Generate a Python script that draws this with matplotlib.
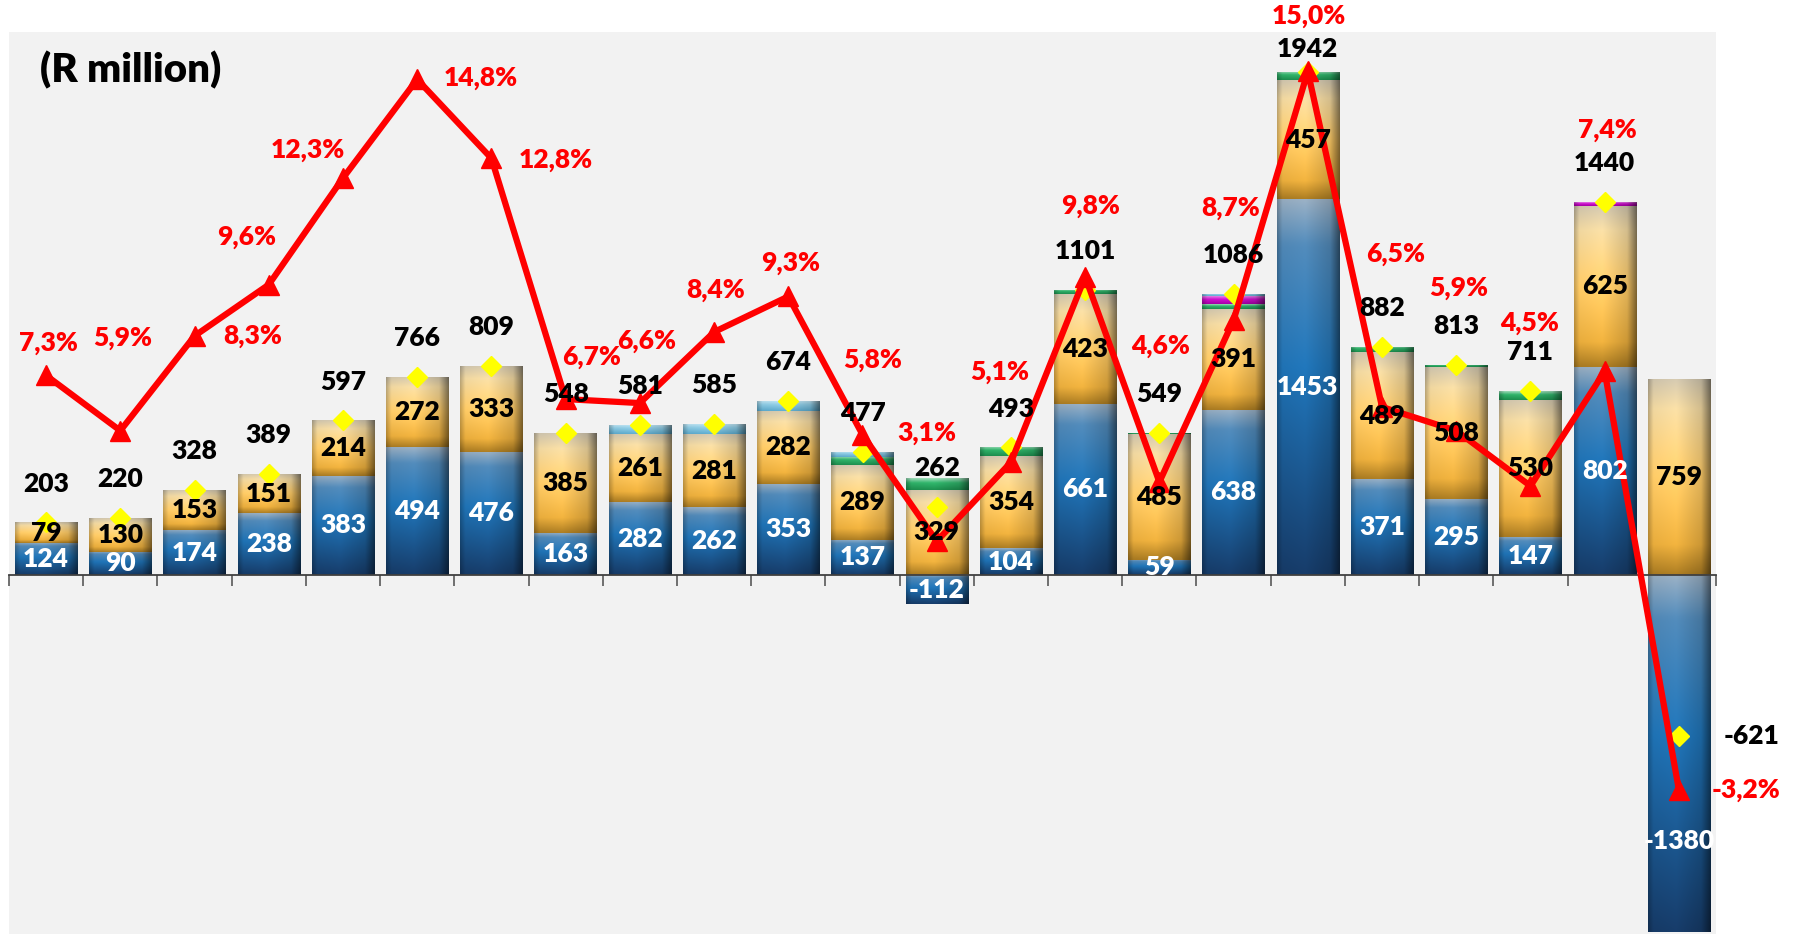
import numpy as np
import matplotlib
matplotlib.use('Agg')
import matplotlib.pyplot as plt
from matplotlib.colors import to_rgb

plt.rcParams['font.family'] = ['Lato', 'DejaVu Sans']
plt.rcParams['font.weight'] = 'heavy'

# values (R million)
blue = [124, 90, 174, 238, 383, 494, 476, 163, 282, 262, 353, 137, -112,
        104, 661, 59, 638, 1453, 371, 295, 147, 802, -1380]
gold = [79, 130, 153, 151, 214, 272, 333, 385, 261, 281, 282, 289, 329,
        354, 423, 485, 391, 457, 489, 508, 530, 625, 759]
green = [0, 0, 0, 0, 0, 0, 0, 0, 0, 0, 0, 31, 45,
         35, 17, 5, 18, 32, 22, 10, 34, 0, 0]
magenta = [0, 0, 0, 0, 0, 0, 0, 0, 0, 0, 0, 0, 0,
           0, 0, 0, 30, 0, 0, 0, 0, 13, 0]
lightblue = [0, 0, 1, 0, 0, 0, 0, 0, 38, 42, 39, 20, 0,
             0, 0, 0, 9, 0, 0, 0, 0, 0, 0]
totals = [203, 220, 328, 389, 597, 766, 809, 548, 581, 585, 674, 477, 262,
          493, 1101, 549, 1086, 1942, 882, 813, 711, 1440, -621]
pct = [7.3, 5.9, 8.3, 9.6, 12.3, 14.8, 12.8, 6.7, 6.6, 8.4, 9.3, 5.8, 3.1,
       5.1, 9.8, 4.6, 8.7, 15.0, 6.5, 5.9, 4.5, 7.4, -3.2]

# label placement (offset points)
pct_offsets = [(2, 23), (2, 67), (42, 0), (-16, 34), (-25, 20), (46, 1), (46, -1),
               (19, 30), (5, 45), (1, 30), (2, 24), (7, 54), (-7, 78), (-8, 65),
               (4, 51), (1, 98), (-2, 81), (1, 40), (10, 110), (2, 103), (-1, 117),
               (2, 174), (48, 0)]
total_offsets = [(0, 28)] * 17 + [(0, 17)] + [(0, 28)] * 4 + [(52, 0)]
blue_label_at = {22: -1026}

n = len(blue)
x = np.arange(n)
W = 0.84

FS = 19


def paint(ax, bars, vstops, vcols):
    # fake Excel bevel: vertical colour ramp times a horizontal shading profile
    hx = np.linspace(0, 1, 60)
    hprof = np.interp(hx, [0, 0.08, 0.45, 0.85, 1.0], [0.78, 1.0, 1.05, 0.88, 0.5])
    vy = np.linspace(0, 1, 80)
    rgb = np.array([to_rgb(c) for c in vcols])
    vcol = np.stack([np.interp(vy, vstops, rgb[:, k]) for k in range(3)], axis=1)
    img = np.clip(vcol[:, None, :] * hprof[None, :, None], 0, 1)
    for p in bars:
        h = p.get_height()
        if h == 0:
            continue
        x0, w = p.get_x(), p.get_width()
        y0, y1 = sorted([p.get_y(), p.get_y() + h])
        im = ax.imshow(img, extent=[x0, x0 + w, y0, y1], aspect='auto',
                       interpolation='bilinear', zorder=1.2, origin='upper')
        im.set_clip_path(p)


fig = plt.figure(figsize=(17.94, 9.34), dpi=100)
ax = fig.add_axes([9 / 1794, 0, 1707 / 1794, 1 - 32 / 934])
ax.set_facecolor('#f2f2f2')

b_blue = np.array(blue)
b_gold_bottom = np.maximum(b_blue, 0)
b_green_bottom = b_gold_bottom + np.array(gold)
b_mag_bottom = b_green_bottom + np.array(green)
b_lb_bottom = b_mag_bottom + np.array(magenta)

kw = dict(width=W, zorder=1, edgecolor='none')
bars_blue = ax.bar(x, blue, color='#1f6fb0', **kw)
bars_gold = ax.bar(x, gold, bottom=b_gold_bottom, color='#f5c050', **kw)
bars_green = ax.bar(x, green, bottom=b_green_bottom, color='#2aa35e', **kw)
bars_mag = ax.bar(x, magenta, bottom=b_mag_bottom, color='#c010c0', **kw)
bars_lb = ax.bar(x, lightblue, bottom=b_lb_bottom, color='#86c3dd', **kw)

paint(ax, bars_blue, [0, 0.12, 0.45, 1], ['#93a9bd', '#4f86b4', '#1f72b4', '#163a66'])
paint(ax, bars_gold, [0, 0.15, 0.5, 0.85, 1], ['#cdc2aa', '#f0d7a0', '#ffcc68', '#e8ac3c', '#a87a22'])
paint(ax, bars_green, [0, 0.4, 1], ['#a0d8b8', '#2fb068', '#1c8a4c'])
paint(ax, bars_mag, [0, 0.4, 1], ['#e080e0', '#cc10cc', '#a000a0'])
paint(ax, bars_lb, [0, 0.4, 1], ['#c4e2ee', '#8cc8e0', '#5aa6c8'])

ax.plot(x, totals, 'D', color='#ffff00', ms=10, ls='none', zorder=3)

ax.set_xlim(-0.5, n - 0.5)
ax.set_ylim(-1386, 2097)
ax.spines['bottom'].set_position(('data', 0))
ax.spines['bottom'].set_color('#404040')
ax.spines['bottom'].set_linewidth(1.3)
ax.spines['bottom'].set_zorder(2.5)
for s in ['top', 'left', 'right']:
    ax.spines[s].set_visible(False)
ax.set_xticks(np.arange(-0.5, n, 1))
ax.set_xticklabels([])
ax.tick_params(axis='x', direction='out', length=8, width=1.2, color='#595959')
ax.set_yticks([])

ax2 = ax.twinx()
ax2.set_ylim(-6.85, 16.0)
ax2.set_yticks([])
for s in ax2.spines.values():
    s.set_visible(False)
ax2.plot(x, pct, color='#ff0000', lw=4.5, marker='^', ms=14, zorder=3)

for i in range(n):
    yb = blue_label_at.get(i, blue[i] / 2)
    ax2.text(i, yb, str(blue[i]), transform=ax.transData, color='white',
             ha='center', va='center', fontsize=FS, zorder=5, clip_on=True)
    ax2.text(i, b_gold_bottom[i] + gold[i] / 2, str(gold[i]), transform=ax.transData,
             color='black', ha='center', va='center', fontsize=FS, zorder=5, clip_on=True)
    ax2.annotate(str(totals[i]), xy=(i, totals[i]), xycoords=ax.transData,
                 xytext=total_offsets[i], textcoords='offset points',
                 ha='center', va='center', fontsize=FS, color='black', zorder=5,
                 annotation_clip=False)
    ax2.annotate(f'{pct[i]:.1f}%'.replace('.', ','), xy=(i, pct[i]),
                 xytext=pct_offsets[i], textcoords='offset points',
                 ha='center', va='center', fontsize=FS, color='#ff0000', zorder=5,
                 annotation_clip=False)

fig.text(40 / 1794, 1 - 70 / 934, '(R million)', fontsize=29, ha='left', va='center')

fig.savefig('out.png', dpi=100)
